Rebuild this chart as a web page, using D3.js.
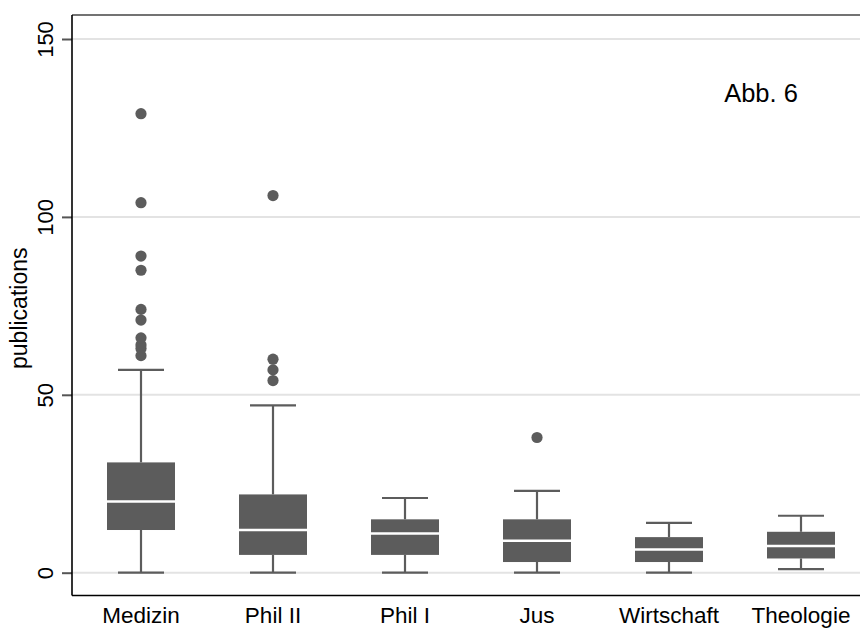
<!DOCTYPE html>
<html>
<head>
<meta charset="utf-8">
<script src="https://cdn.jsdelivr.net/npm/d3@7"></script>
<style>
  html, body { margin: 0; padding: 0; background: #fff; }
  svg { display: block; font-family: "Liberation Sans", Arial, Helvetica, sans-serif; }
</style>
</head>
<body>
<svg id="chart" width="860" height="630"></svg>
<script>
// ---- data ----
const categories   = ["Medizin", "Phil II", "Phil I", "Jus", "Wirtschaft", "Theologie"];
const whiskerLow   = [0, 0, 0, 0, 0, 1];
const quartile1    = [12, 5, 5, 3, 3, 4];
const medians      = [20, 12, 11, 9, 6.5, 7.5];
const quartile3    = [31, 22, 15, 15, 10, 11.5];
const whiskerHigh  = [57, 47, 21, 23, 14, 16];
const outliers     = [
  [61, 63, 64, 66, 71, 74, 85, 89, 104, 129],
  [54, 57, 60, 106],
  [],
  [38],
  [],
  []
];
const yTicks = [0, 50, 100, 150];
const yTitle = "publications";
const note = "Abb. 6";

// ---- layout ----
const svg = d3.select("#chart");
const plotLeft = 72, plotTop = 15, plotBottom = 595.5, plotRight = 862;

const y = d3.scaleLinear().domain([0, 150]).range([572.7, 39]);
const x = d3.scaleBand().domain(categories).range([75, 867]).paddingInner(0).paddingOuter(0);
const boxW = 68, capW = 46;
const boxColor = "#5c5c5c";

// gridlines
svg.append("g").selectAll("line").data(yTicks).join("line")
  .attr("x1", plotLeft).attr("x2", plotRight)
  .attr("y1", d => y(d)).attr("y2", d => y(d))
  .attr("stroke", "#e3e3e3").attr("stroke-width", 2);

// frame (top, bottom)
svg.append("line").attr("x1", plotLeft).attr("x2", plotRight).attr("y1", plotTop).attr("y2", plotTop)
  .attr("stroke", "#444").attr("stroke-width", 1.6);
svg.append("line").attr("x1", plotLeft).attr("x2", plotRight).attr("y1", plotBottom).attr("y2", plotBottom)
  .attr("stroke", "#000").attr("stroke-width", 1.6);

// y axis
const yAxis = d3.axisLeft(y).tickValues(yTicks).tickSize(10).tickPadding(0).tickFormat(d3.format("d"));
const ga = svg.append("g").attr("transform", `translate(${plotLeft},0)`).call(yAxis);
ga.select(".domain").remove();
ga.append("line").attr("x1", 0).attr("x2", 0).attr("y1", plotTop).attr("y2", plotBottom)
  .attr("stroke", "#000").attr("stroke-width", 1.6);
ga.selectAll(".tick line").attr("stroke", "#555").attr("stroke-width", 2);
ga.selectAll(".tick text")
  .attr("x", null).attr("dy", null)
  .attr("transform", "translate(-19,0) rotate(-90)")
  .attr("text-anchor", "middle")
  .attr("fill", "#000")
  .style("font-size", "22px")
  .style("font-family", "\"Liberation Sans\", Arial, sans-serif");

// y title
svg.append("text")
  .attr("transform", `translate(27,${(plotTop + plotBottom) / 2 + 3}) rotate(-90)`)
  .attr("text-anchor", "middle")
  .style("font-size", "23px")
  .text(yTitle);

// boxes
const g = svg.append("g");
categories.forEach((c, i) => {
  const cx = x(c) + x.bandwidth() / 2;
  // whiskers
  g.append("line").attr("x1", cx).attr("x2", cx).attr("y1", y(quartile3[i])).attr("y2", y(whiskerHigh[i]))
    .attr("stroke", boxColor).attr("stroke-width", 2.2);
  g.append("line").attr("x1", cx).attr("x2", cx).attr("y1", y(quartile1[i])).attr("y2", y(whiskerLow[i]))
    .attr("stroke", boxColor).attr("stroke-width", 2.2);
  g.append("line").attr("x1", cx - capW / 2).attr("x2", cx + capW / 2)
    .attr("y1", y(whiskerHigh[i])).attr("y2", y(whiskerHigh[i]))
    .attr("stroke", boxColor).attr("stroke-width", 2.2);
  g.append("line").attr("x1", cx - capW / 2).attr("x2", cx + capW / 2)
    .attr("y1", y(whiskerLow[i])).attr("y2", y(whiskerLow[i]))
    .attr("stroke", boxColor).attr("stroke-width", 2.2);
  // box
  g.append("rect").attr("x", cx - boxW / 2).attr("width", boxW)
    .attr("y", y(quartile3[i])).attr("height", y(quartile1[i]) - y(quartile3[i]))
    .attr("fill", boxColor);
  // median
  g.append("line").attr("x1", cx - boxW / 2).attr("x2", cx + boxW / 2)
    .attr("y1", y(medians[i])).attr("y2", y(medians[i]))
    .attr("stroke", "#fff").attr("stroke-width", 2.6);
  // outliers
  g.selectAll(null).data(outliers[i]).join("circle")
    .attr("cx", cx).attr("cy", d => y(d)).attr("r", 5.6)
    .attr("fill", boxColor);
  // category label
  svg.append("text").attr("x", cx).attr("y", 623)
    .attr("text-anchor", "middle")
    .style("font-size", "22.5px")
    .text(c);
});

// note
svg.append("text").attr("x", 761).attr("y", 101.5)
  .attr("text-anchor", "middle")
  .style("font-size", "25.5px")
  .text(note);
</script>
</body>
</html>
